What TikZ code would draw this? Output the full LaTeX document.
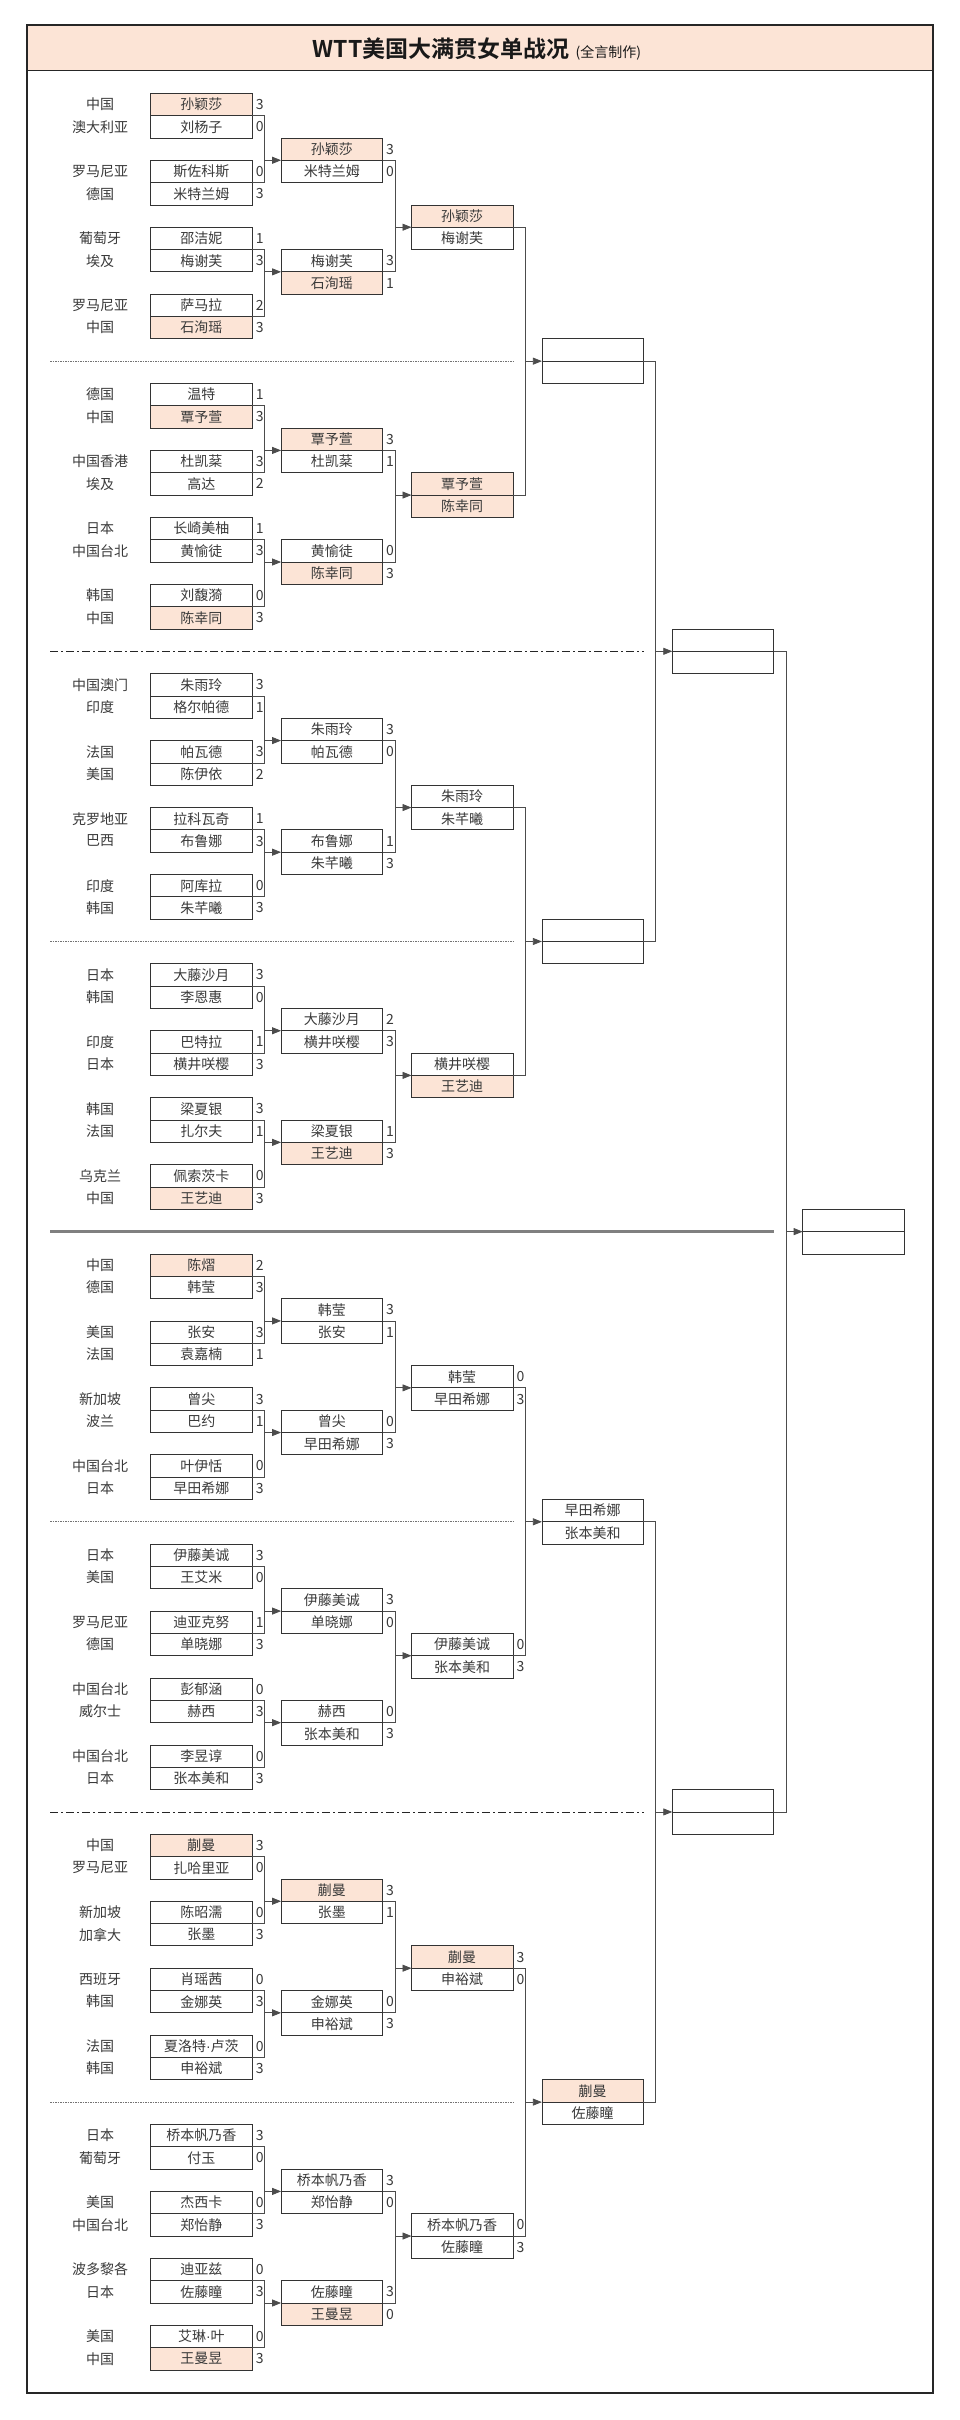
\documentclass[tikz,border=0pt]{standalone}
\usepackage{fontspec}
\newfontfamily\cjk{Noto Sans CJK SC}[BoldFont={Noto Sans CJK SC Bold}]
\newfontfamily\latinf{Liberation Sans}
\newcommand\md{{\latinf ·}}
\usetikzlibrary{arrows.meta}
\definecolor{peach}{HTML}{FCE4D6}
\definecolor{ink}{HTML}{3A3A3A}
\tikzset{
  cell/.style={draw=black!80, line width=0.8pt, anchor=north west, minimum width=101.4pt,
    minimum height=22.32pt, inner sep=0pt, outer sep=0pt, font=\cjk\fontsize{14}{14}\selectfont, text=ink},
  hl/.style={fill=peach},
  no/.style={fill=white},
  score/.style={anchor=west, inner sep=0pt, xshift=3.5pt, font=\cjk\fontsize{14}{14}\selectfont, text=ink},
  ctry/.style={inner sep=0pt, font=\cjk\fontsize{14}{14}\selectfont, text=ink},
  conn/.style={draw=black!70, line width=0.8pt},
  arr/.style={-{Triangle[length=9pt,width=7pt]}},
  sepdot/.style={draw=black!55, line width=0.8pt, dash pattern=on 1.5pt off 1pt},
  sepdash/.style={draw=black!85, line width=0.8pt, dash pattern=on 8pt off 3pt on 2pt off 3pt},
  septhick/.style={draw=black!50, line width=3pt},
}
\newcommand\pl[6]{%
  \pgfmathsetmacro\myX{150.7+130.4*(#2)}%
  \pgfmathsetmacro\myY{93.3+22.32*(#3)}%
  \node[cell,#5] (#1) at (\myX,\myY) {#4};
  \node[score] (#1s) at (#1.east) {#6};}
\newcommand\ct[3]{%
  \pgfmathsetmacro\myY{93.3+22.32*(#2)+11.16}%
  \node[ctry] (#1) at (100,\myY) {#3};}
\newcommand\br[3]{%
  \path (#1.south east) ++(12.5,0) coordinate (#3v);
  \draw[conn] (#1.south east) -- (#3v) |- (#2.south east);
  \draw[conn,arr] (#3v |- #3.south west) -- (#3.south west);}
\newcommand\sepline[4]{%
  \pgfmathsetmacro\myY{93.3+22.32*(#2)}%
  \coordinate (#1l) at (50,\myY);
  \coordinate (#1r) at (#3,\myY);
  \draw[#4] (#1l) -- (#1r);}
\begin{document}
\begin{tikzpicture}[x=1pt,y=-1pt]
\useasboundingbox (0,0) rectangle (960,2420);
% frame and header
\fill[white] (27,25.3) rectangle (933.3,2393);
\fill[peach] (27,25.3) rectangle (933.3,70.3);
\draw[line width=1.2pt, black!85] (27,70.3) -- (933.3,70.3);
\draw[line width=1.8pt, black!85] (27,25.3) rectangle (933.3,2393);
\node[inner sep=0pt, text=black!90] (title) at (477,49.5)
  {\cjk\fontsize{23}{23}\selectfont\bfseries WTT美国大满贯女单战况\hspace{6pt}{\mdseries\fontsize{14}{14}\selectfont(全言制作)}};
% separators
\sepline{sa}{12}{512.7}{sepdot}
\sepline{sb}{25}{644}{sepdash}
\sepline{sc}{38}{512.7}{sepdot}
\sepline{sd}{51}{774.3}{septhick}
\sepline{se}{64}{512.7}{sepdot}
\sepline{sf}{77}{644}{sepdash}
\sepline{sg}{90}{512.7}{sepdot}
% ===== Section 1
\ct{s1c1}{0}{中国}\pl{s1m1a}{0}{0}{孙颖莎}{hl}{3}
\ct{s1c2}{1}{澳大利亚}\pl{s1m1b}{0}{1}{刘杨子}{no}{0}
\ct{s1c3}{3}{罗马尼亚}\pl{s1m2a}{0}{3}{斯佐科斯}{no}{0}
\ct{s1c4}{4}{德国}\pl{s1m2b}{0}{4}{米特兰姆}{no}{3}
\ct{s1c5}{6}{葡萄牙}\pl{s1m3a}{0}{6}{邵洁妮}{no}{1}
\ct{s1c6}{7}{埃及}\pl{s1m3b}{0}{7}{梅谢芙}{no}{3}
\ct{s1c7}{9}{罗马尼亚}\pl{s1m4a}{0}{9}{萨马拉}{no}{2}
\ct{s1c8}{10}{中国}\pl{s1m4b}{0}{10}{石洵瑶}{hl}{3}
\pl{s1q1a}{1}{2}{孙颖莎}{hl}{3}\pl{s1q1b}{1}{3}{米特兰姆}{no}{0}
\pl{s1q2a}{1}{7}{梅谢芙}{no}{3}\pl{s1q2b}{1}{8}{石洵瑶}{hl}{1}
\pl{s1ta}{2}{5}{孙颖莎}{hl}{}\pl{s1tb}{2}{6}{梅谢芙}{no}{}
% ===== Section 2
\ct{s2c1}{13}{德国}\pl{s2m1a}{0}{13}{温特}{no}{1}
\ct{s2c2}{14}{中国}\pl{s2m1b}{0}{14}{覃予萱}{hl}{3}
\ct{s2c3}{16}{中国香港}\pl{s2m2a}{0}{16}{杜凯棻}{no}{3}
\ct{s2c4}{17}{埃及}\pl{s2m2b}{0}{17}{高达}{no}{2}
\ct{s2c5}{19}{日本}\pl{s2m3a}{0}{19}{长崎美柚}{no}{1}
\ct{s2c6}{20}{中国台北}\pl{s2m3b}{0}{20}{黄愉徒}{no}{3}
\ct{s2c7}{22}{韩国}\pl{s2m4a}{0}{22}{刘馥漪}{no}{0}
\ct{s2c8}{23}{中国}\pl{s2m4b}{0}{23}{陈幸同}{hl}{3}
\pl{s2q1a}{1}{15}{覃予萱}{hl}{3}\pl{s2q1b}{1}{16}{杜凯棻}{no}{1}
\pl{s2q2a}{1}{20}{黄愉徒}{no}{0}\pl{s2q2b}{1}{21}{陈幸同}{hl}{3}
\pl{s2ta}{2}{17}{覃予萱}{hl}{}\pl{s2tb}{2}{18}{陈幸同}{hl}{}
% ===== Section 3
\ct{s3c1}{26}{中国澳门}\pl{s3m1a}{0}{26}{朱雨玲}{no}{3}
\ct{s3c2}{27}{印度}\pl{s3m1b}{0}{27}{格尔帕德}{no}{1}
\ct{s3c3}{29}{法国}\pl{s3m2a}{0}{29}{帕瓦德}{no}{3}
\ct{s3c4}{30}{美国}\pl{s3m2b}{0}{30}{陈伊依}{no}{2}
\ct{s3c5}{32}{克罗地亚}\pl{s3m3a}{0}{32}{拉科瓦奇}{no}{1}
\ct{s3c6}{33}{巴西}\pl{s3m3b}{0}{33}{布鲁娜}{no}{3}
\ct{s3c7}{35}{印度}\pl{s3m4a}{0}{35}{阿库拉}{no}{0}
\ct{s3c8}{36}{韩国}\pl{s3m4b}{0}{36}{朱芊曦}{no}{3}
\pl{s3q1a}{1}{28}{朱雨玲}{no}{3}\pl{s3q1b}{1}{29}{帕瓦德}{no}{0}
\pl{s3q2a}{1}{33}{布鲁娜}{no}{1}\pl{s3q2b}{1}{34}{朱芊曦}{no}{3}
\pl{s3ta}{2}{31}{朱雨玲}{no}{}\pl{s3tb}{2}{32}{朱芊曦}{no}{}
% ===== Section 4
\ct{s4c1}{39}{日本}\pl{s4m1a}{0}{39}{大藤沙月}{no}{3}
\ct{s4c2}{40}{韩国}\pl{s4m1b}{0}{40}{李恩惠}{no}{0}
\ct{s4c3}{42}{印度}\pl{s4m2a}{0}{42}{巴特拉}{no}{1}
\ct{s4c4}{43}{日本}\pl{s4m2b}{0}{43}{横井咲樱}{no}{3}
\ct{s4c5}{45}{韩国}\pl{s4m3a}{0}{45}{梁夏银}{no}{3}
\ct{s4c6}{46}{法国}\pl{s4m3b}{0}{46}{扎尔夫}{no}{1}
\ct{s4c7}{48}{乌克兰}\pl{s4m4a}{0}{48}{佩索茨卡}{no}{0}
\ct{s4c8}{49}{中国}\pl{s4m4b}{0}{49}{王艺迪}{hl}{3}
\pl{s4q1a}{1}{41}{大藤沙月}{no}{2}\pl{s4q1b}{1}{42}{横井咲樱}{no}{3}
\pl{s4q2a}{1}{46}{梁夏银}{no}{1}\pl{s4q2b}{1}{47}{王艺迪}{hl}{3}
\pl{s4ta}{2}{43}{横井咲樱}{no}{}\pl{s4tb}{2}{44}{王艺迪}{hl}{}
% ===== Section 5
\ct{s5c1}{52}{中国}\pl{s5m1a}{0}{52}{陈熠}{hl}{2}
\ct{s5c2}{53}{德国}\pl{s5m1b}{0}{53}{韩莹}{no}{3}
\ct{s5c3}{55}{美国}\pl{s5m2a}{0}{55}{张安}{no}{3}
\ct{s5c4}{56}{法国}\pl{s5m2b}{0}{56}{袁嘉楠}{no}{1}
\ct{s5c5}{58}{新加坡}\pl{s5m3a}{0}{58}{曾尖}{no}{3}
\ct{s5c6}{59}{波兰}\pl{s5m3b}{0}{59}{巴约}{no}{1}
\ct{s5c7}{61}{中国台北}\pl{s5m4a}{0}{61}{叶伊恬}{no}{0}
\ct{s5c8}{62}{日本}\pl{s5m4b}{0}{62}{早田希娜}{no}{3}
\pl{s5q1a}{1}{54}{韩莹}{no}{3}\pl{s5q1b}{1}{55}{张安}{no}{1}
\pl{s5q2a}{1}{59}{曾尖}{no}{0}\pl{s5q2b}{1}{60}{早田希娜}{no}{3}
\pl{s5ta}{2}{57}{韩莹}{no}{0}\pl{s5tb}{2}{58}{早田希娜}{no}{3}
% ===== Section 6
\ct{s6c1}{65}{日本}\pl{s6m1a}{0}{65}{伊藤美诚}{no}{3}
\ct{s6c2}{66}{美国}\pl{s6m1b}{0}{66}{王艾米}{no}{0}
\ct{s6c3}{68}{罗马尼亚}\pl{s6m2a}{0}{68}{迪亚克努}{no}{1}
\ct{s6c4}{69}{德国}\pl{s6m2b}{0}{69}{单晓娜}{no}{3}
\ct{s6c5}{71}{中国台北}\pl{s6m3a}{0}{71}{彭郁涵}{no}{0}
\ct{s6c6}{72}{威尔士}\pl{s6m3b}{0}{72}{赫西}{no}{3}
\ct{s6c7}{74}{中国台北}\pl{s6m4a}{0}{74}{李昱谆}{no}{0}
\ct{s6c8}{75}{日本}\pl{s6m4b}{0}{75}{张本美和}{no}{3}
\pl{s6q1a}{1}{67}{伊藤美诚}{no}{3}\pl{s6q1b}{1}{68}{单晓娜}{no}{0}
\pl{s6q2a}{1}{72}{赫西}{no}{0}\pl{s6q2b}{1}{73}{张本美和}{no}{3}
\pl{s6ta}{2}{69}{伊藤美诚}{no}{0}\pl{s6tb}{2}{70}{张本美和}{no}{3}
% ===== Section 7
\ct{s7c1}{78}{中国}\pl{s7m1a}{0}{78}{蒯曼}{hl}{3}
\ct{s7c2}{79}{罗马尼亚}\pl{s7m1b}{0}{79}{扎哈里亚}{no}{0}
\ct{s7c3}{81}{新加坡}\pl{s7m2a}{0}{81}{陈昭濡}{no}{0}
\ct{s7c4}{82}{加拿大}\pl{s7m2b}{0}{82}{张墨}{no}{3}
\ct{s7c5}{84}{西班牙}\pl{s7m3a}{0}{84}{肖瑶茜}{no}{0}
\ct{s7c6}{85}{韩国}\pl{s7m3b}{0}{85}{金娜英}{no}{3}
\ct{s7c7}{87}{法国}\pl{s7m4a}{0}{87}{夏洛特\md 卢茨}{no}{0}
\ct{s7c8}{88}{韩国}\pl{s7m4b}{0}{88}{申裕斌}{no}{3}
\pl{s7q1a}{1}{80}{蒯曼}{hl}{3}\pl{s7q1b}{1}{81}{张墨}{no}{1}
\pl{s7q2a}{1}{85}{金娜英}{no}{0}\pl{s7q2b}{1}{86}{申裕斌}{no}{3}
\pl{s7ta}{2}{83}{蒯曼}{hl}{3}\pl{s7tb}{2}{84}{申裕斌}{no}{0}
% ===== Section 8
\ct{s8c1}{91}{日本}\pl{s8m1a}{0}{91}{桥本帆乃香}{no}{3}
\ct{s8c2}{92}{葡萄牙}\pl{s8m1b}{0}{92}{付玉}{no}{0}
\ct{s8c3}{94}{美国}\pl{s8m2a}{0}{94}{杰西卡}{no}{0}
\ct{s8c4}{95}{中国台北}\pl{s8m2b}{0}{95}{郑怡静}{no}{3}
\ct{s8c5}{97}{波多黎各}\pl{s8m3a}{0}{97}{迪亚兹}{no}{0}
\ct{s8c6}{98}{日本}\pl{s8m3b}{0}{98}{佐藤瞳}{no}{3}
\ct{s8c7}{100}{美国}\pl{s8m4a}{0}{100}{艾琳\md 叶}{no}{0}
\ct{s8c8}{101}{中国}\pl{s8m4b}{0}{101}{王曼昱}{hl}{3}
\pl{s8q1a}{1}{93}{桥本帆乃香}{no}{3}\pl{s8q1b}{1}{94}{郑怡静}{no}{0}
\pl{s8q2a}{1}{98}{佐藤瞳}{no}{3}\pl{s8q2b}{1}{99}{王曼昱}{hl}{0}
\pl{s8ta}{2}{95}{桥本帆乃香}{no}{0}\pl{s8tb}{2}{96}{佐藤瞳}{no}{3}
% ===== Quarterfinals, semifinals, final
\pl{qf1a}{3}{11}{}{no}{}\pl{qf1b}{3}{12}{}{no}{}
\pl{qf2a}{3}{37}{}{no}{}\pl{qf2b}{3}{38}{}{no}{}
\pl{qf3a}{3}{63}{早田希娜}{no}{}\pl{qf3b}{3}{64}{张本美和}{no}{}
\pl{qf4a}{3}{89}{蒯曼}{hl}{}\pl{qf4b}{3}{90}{佐藤瞳}{no}{}
\pl{sf1a}{4}{24}{}{no}{}\pl{sf1b}{4}{25}{}{no}{}
\pl{sf2a}{4}{76}{}{no}{}\pl{sf2b}{4}{77}{}{no}{}
\pl{fa}{5}{50}{}{no}{}\pl{fb}{5}{51}{}{no}{}
% ===== connectors
\br{s1m1a}{s1m2a}{s1q1a}\br{s1m3a}{s1m4a}{s1q2a}\br{s1q1a}{s1q2a}{s1ta}
\br{s2m1a}{s2m2a}{s2q1a}\br{s2m3a}{s2m4a}{s2q2a}\br{s2q1a}{s2q2a}{s2ta}
\br{s3m1a}{s3m2a}{s3q1a}\br{s3m3a}{s3m4a}{s3q2a}\br{s3q1a}{s3q2a}{s3ta}
\br{s4m1a}{s4m2a}{s4q1a}\br{s4m3a}{s4m4a}{s4q2a}\br{s4q1a}{s4q2a}{s4ta}
\br{s5m1a}{s5m2a}{s5q1a}\br{s5m3a}{s5m4a}{s5q2a}\br{s5q1a}{s5q2a}{s5ta}
\br{s6m1a}{s6m2a}{s6q1a}\br{s6m3a}{s6m4a}{s6q2a}\br{s6q1a}{s6q2a}{s6ta}
\br{s7m1a}{s7m2a}{s7q1a}\br{s7m3a}{s7m4a}{s7q2a}\br{s7q1a}{s7q2a}{s7ta}
\br{s8m1a}{s8m2a}{s8q1a}\br{s8m3a}{s8m4a}{s8q2a}\br{s8q1a}{s8q2a}{s8ta}
\br{s1ta}{s2ta}{qf1a}\br{s3ta}{s4ta}{qf2a}\br{s5ta}{s6ta}{qf3a}\br{s7ta}{s8ta}{qf4a}
\br{qf1a}{qf2a}{sf1a}\br{qf3a}{qf4a}{sf2a}
\br{sf1a}{sf2a}{fa}
\end{tikzpicture}
\end{document}
